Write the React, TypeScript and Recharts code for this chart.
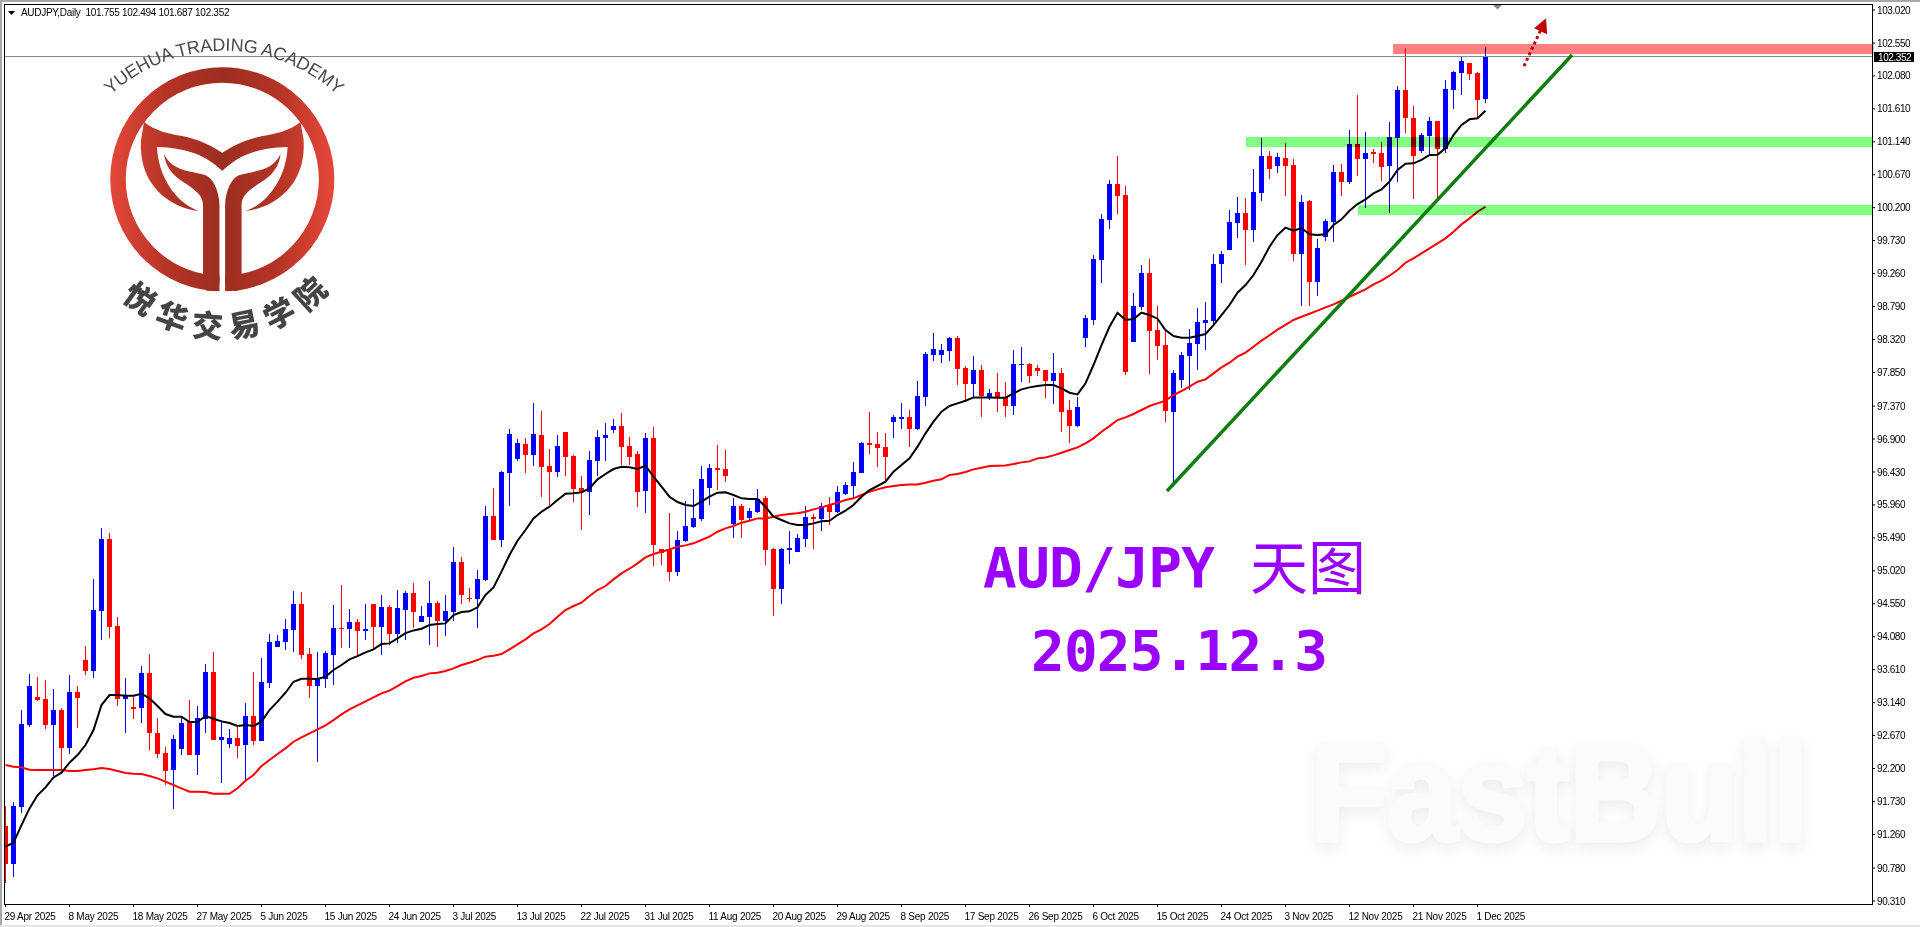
import {
  Bar,
  ComposedChart,
  Line,
  ReferenceArea,
  ReferenceDot,
  ReferenceLine,
  XAxis,
  YAxis,
} from "recharts";

const dateLabels = [
  "29 Apr 2025", "8 May 2025", "18 May 2025", "27 May 2025", "5 Jun 2025", "15 Jun 2025",
  "24 Jun 2025", "3 Jul 2025", "13 Jul 2025", "22 Jul 2025", "31 Jul 2025", "11 Aug 2025",
  "20 Aug 2025", "29 Aug 2025", "8 Sep 2025", "17 Sep 2025", "26 Sep 2025", "6 Oct 2025",
  "15 Oct 2025", "24 Oct 2025", "3 Nov 2025", "12 Nov 2025", "21 Nov 2025", "1 Dec 2025",
];
const dateTicks = dateLabels.map((_, i) => i * 8);

const priceTicks = [
  103.02, 102.55, 102.08, 101.61, 101.14, 100.67, 100.2, 99.73, 99.26, 98.79, 98.32, 97.85, 97.37, 96.9,
  96.43, 95.96, 95.49, 95.02, 94.55, 94.08, 93.61, 93.14, 92.67, 92.2, 91.73, 91.26, 90.78, 90.31,
];

const opens = [
  91.379, 90.837, 91.650, 92.820, 93.219, 93.191, 92.820, 93.034, 92.492, 93.291,
  93.747, 93.590, 94.446, 95.473, 94.232, 93.191, 93.077, 93.063, 93.562, 92.706,
  92.421, 92.178, 92.478, 92.863, 92.392, 92.906, 93.576, 92.606, 92.549, 92.635,
  92.535, 92.948, 92.592, 93.419, 93.933, 94.004, 94.175, 94.546, 93.833, 93.376,
  93.476, 93.819, 94.204, 94.190, 94.289, 94.161, 94.546, 94.218, 94.503, 94.118,
  94.461, 94.703, 94.289, 94.361, 94.560, 94.304, 94.432, 95.145, 94.632, 94.617,
  94.889, 95.802, 95.459, 96.415, 96.615, 96.829, 96.672, 96.957, 96.515, 96.429,
  97.000, 96.658, 96.201, 96.144, 96.586, 96.914, 97.029, 97.086, 96.800, 96.686,
  96.158, 96.914, 95.331, 95.317, 95.003, 95.445, 95.645, 95.759, 96.201, 96.486,
  96.472, 95.688, 95.944, 95.773, 95.859, 96.058, 95.331, 94.760, 95.317, 95.288,
  95.474, 95.787, 95.759, 95.959, 95.859, 96.116, 96.230, 96.415, 96.843, 96.829,
  96.786, 97.143, 97.185, 97.214, 97.043, 97.499, 98.098, 98.098, 98.155, 98.341,
  97.913, 97.685, 97.884, 97.499, 97.570, 97.499, 97.371, 97.956, 97.970, 97.913,
  97.884, 97.727, 97.842, 97.314, 97.085, 98.341, 98.598, 99.454, 100.024, 100.538,
  100.381, 98.284, 98.783, 99.268, 98.455, 98.241, 97.285, 97.742, 98.084, 98.255,
  98.555, 98.583, 99.396, 99.596, 99.981, 100.124, 99.882, 100.410, 100.938, 100.795,
  100.909, 100.809, 99.539, 100.296, 99.140, 99.782, 99.996, 100.709, 100.567, 101.109,
  100.895, 100.995, 100.980, 100.795, 101.194, 101.879, 101.480, 101.009, 101.223, 101.437,
  101.037, 101.879, 102.122, 102.264, 102.122, 101.755,
];

const highs = [
  91.665, 91.722, 93.034, 93.548, 93.505, 93.462, 93.334, 93.063, 93.533, 93.376,
  93.947, 94.903, 95.630, 95.559, 94.361, 93.491, 93.234, 93.662, 93.833, 92.920,
  92.506, 92.677, 92.920, 93.177, 93.091, 93.690, 93.861, 92.891, 92.763, 92.820,
  93.134, 93.576, 93.776, 94.118, 94.104, 94.332, 94.732, 94.717, 93.918, 93.861,
  93.876, 94.532, 94.817, 94.475, 94.332, 94.546, 94.546, 94.675, 94.532, 94.746,
  94.732, 94.846, 94.518, 94.874, 94.589, 94.675, 95.359, 95.217, 94.774, 95.031,
  95.944, 96.201, 96.450, 97.043, 96.900, 96.914, 97.414, 97.300, 96.757, 96.957,
  97.000, 96.672, 96.372, 96.729, 97.029, 97.128, 97.185, 97.271, 96.929, 96.729,
  96.986, 97.071, 95.331, 95.845, 95.588, 96.016, 96.187, 96.515, 96.543, 96.815,
  96.743, 96.058, 95.973, 95.916, 96.187, 96.087, 95.345, 95.345, 95.588, 95.545,
  95.944, 95.830, 95.987, 96.073, 96.230, 96.287, 96.572, 96.857, 97.285, 97.000,
  96.986, 97.242, 97.414, 97.314, 97.728, 98.141, 98.412, 98.255, 98.355, 98.369,
  97.941, 98.084, 97.956, 97.613, 97.842, 97.713, 98.170, 98.212, 97.984, 97.956,
  97.884, 98.127, 97.913, 97.456, 97.499, 98.669, 99.525, 100.110, 100.595, 100.937,
  100.509, 98.983, 99.382, 99.468, 98.797, 98.455, 97.884, 98.141, 98.469, 98.769,
  98.854, 99.539, 99.582, 100.167, 100.352, 100.338, 100.752, 101.194, 101.009, 100.980,
  101.123, 100.895, 100.381, 100.310, 99.754, 100.039, 100.809, 100.823, 101.309, 101.808,
  101.280, 101.037, 101.137, 101.423, 101.936, 102.478, 101.651, 101.266, 101.494, 101.437,
  102.022, 102.150, 102.350, 102.264, 102.136, 102.494,
];

const lows = [
  90.561, 90.656, 91.565, 92.791, 93.162, 92.763, 92.093, 92.178, 92.406, 92.777,
  93.533, 93.491, 94.033, 94.061, 93.091, 92.706, 92.906, 92.849, 92.463, 92.349,
  91.964, 91.622, 92.392, 92.392, 92.107, 92.706, 92.606, 91.993, 92.492, 92.349,
  92.035, 92.535, 92.592, 93.348, 93.933, 93.890, 93.861, 93.762, 93.205, 92.292,
  93.348, 93.391, 93.918, 93.918, 93.804, 94.033, 93.904, 93.819, 93.961, 93.990,
  94.033, 94.204, 94.289, 93.961, 93.933, 94.090, 94.304, 94.546, 94.575, 94.204,
  94.874, 95.459, 95.359, 95.944, 96.586, 96.415, 96.515, 96.073, 95.959, 96.358,
  96.372, 96.001, 95.602, 95.816, 96.372, 96.586, 96.986, 96.529, 96.529, 95.930,
  95.845, 95.088, 95.103, 94.874, 94.946, 95.431, 95.631, 95.730, 95.959, 96.173,
  96.287, 95.488, 95.488, 95.745, 95.845, 95.103, 94.375, 94.546, 95.117, 95.288,
  95.359, 95.331, 95.588, 95.673, 95.845, 96.101, 96.058, 96.415, 96.686, 96.501,
  96.272, 96.914, 97.043, 96.786, 97.029, 97.371, 98.013, 97.984, 98.013, 97.670,
  97.428, 97.504, 97.214, 97.456, 97.285, 97.214, 97.242, 97.713, 97.699, 97.799,
  97.485, 97.399, 97.000, 96.843, 97.071, 98.212, 98.526, 99.125, 99.896, 100.110,
  97.813, 98.284, 98.740, 97.827, 98.027, 97.143, 96.287, 97.628, 97.599, 97.884,
  98.170, 98.541, 99.125, 99.596, 99.767, 99.382, 99.711, 100.296, 100.610, 100.695,
  100.367, 99.439, 98.797, 98.797, 98.940, 99.725, 99.711, 100.367, 100.538, 100.652,
  100.196, 100.838, 100.581, 100.125, 100.567, 101.266, 100.324, 100.980, 100.938, 100.324,
  100.980, 101.608, 101.808, 102.022, 101.480, 101.687,
];

const closes = [
  90.837, 91.665, 92.834, 93.376, 93.177, 92.820, 93.034, 92.492, 93.291, 93.205,
  93.590, 94.461, 95.473, 94.218, 93.191, 93.248, 93.048, 93.562, 92.706, 92.406,
  92.164, 92.620, 92.849, 92.392, 92.920, 93.576, 92.606, 92.649, 92.635, 92.520,
  92.948, 92.592, 93.433, 94.004, 94.018, 94.190, 94.546, 93.819, 93.376, 93.476,
  93.847, 94.204, 94.190, 94.289, 94.161, 94.190, 94.218, 94.503, 94.118, 94.489,
  94.703, 94.432, 94.375, 94.560, 94.304, 94.446, 95.145, 94.675, 94.617, 94.903,
  95.802, 95.459, 96.429, 96.971, 96.843, 96.672, 96.971, 96.501, 96.429, 96.800,
  96.643, 96.187, 96.144, 96.601, 96.929, 96.957, 97.086, 96.786, 96.643, 96.144,
  96.914, 95.388, 95.274, 95.003, 95.459, 95.659, 95.773, 96.330, 96.486, 96.458,
  96.372, 95.944, 95.745, 95.873, 96.044, 95.317, 94.760, 95.331, 95.345, 95.488,
  95.787, 95.759, 95.944, 95.859, 96.144, 96.244, 96.429, 96.843, 96.815, 96.772,
  96.643, 97.214, 97.214, 97.043, 97.514, 98.113, 98.184, 98.170, 98.341, 97.899,
  97.685, 97.884, 97.513, 97.556, 97.499, 97.371, 97.970, 97.970, 97.799, 97.870,
  97.727, 97.842, 97.285, 97.085, 97.356, 98.626, 99.468, 100.038, 100.538, 100.366,
  97.856, 98.797, 99.268, 98.441, 98.227, 97.299, 97.842, 98.098, 98.270, 98.569,
  98.598, 99.396, 99.539, 99.996, 100.124, 99.881, 100.424, 100.938, 100.752, 100.923,
  100.795, 99.539, 100.281, 99.140, 99.625, 100.010, 100.709, 100.567, 101.109, 100.895,
  100.980, 100.966, 100.781, 101.209, 101.879, 101.480, 100.938, 101.237, 101.437, 101.037,
  101.893, 102.136, 102.293, 102.107, 101.736, 102.352,
];

const fastMa = [
  91.084, 91.141, 91.393, 91.631, 91.817, 91.931, 92.073, 92.140, 92.283, 92.392,
  92.535, 92.749, 93.105, 93.248, 93.248, 93.238, 93.238, 93.267, 93.200, 93.091,
  92.977, 92.939, 92.939, 92.863, 92.863, 92.948, 92.910, 92.872, 92.849, 92.806,
  92.820, 92.806, 92.868, 93.034, 93.153, 93.281, 93.438, 93.481, 93.481, 93.476,
  93.510, 93.605, 93.676, 93.757, 93.804, 93.857, 93.899, 93.976, 93.985, 94.056,
  94.132, 94.170, 94.194, 94.247, 94.261, 94.270, 94.389, 94.432, 94.442, 94.499,
  94.675, 94.784, 95.008, 95.245, 95.450, 95.602, 95.768, 95.863, 95.935, 96.030,
  96.120, 96.125, 96.139, 96.196, 96.325, 96.401, 96.472, 96.505, 96.496, 96.472,
  96.520, 96.363, 96.220, 96.077, 96.001, 95.959, 95.944, 96.006, 96.077, 96.134,
  96.139, 96.101, 96.054, 96.044, 96.044, 95.935, 95.792, 95.745, 95.697, 95.673,
  95.673, 95.697, 95.726, 95.735, 95.816, 95.878, 95.959, 96.077, 96.173, 96.230,
  96.291, 96.434, 96.529, 96.624, 96.791, 96.981, 97.147, 97.290, 97.371, 97.409,
  97.447, 97.494, 97.494, 97.494, 97.490, 97.490, 97.551, 97.609, 97.637, 97.656,
  97.670, 97.670, 97.623, 97.561, 97.537, 97.694, 97.956, 98.241, 98.502, 98.702,
  98.598, 98.612, 98.702, 98.669, 98.617, 98.455, 98.369, 98.346, 98.346, 98.369,
  98.398, 98.526, 98.669, 98.812, 98.987, 99.097, 99.240, 99.430, 99.644, 99.810,
  99.915, 99.872, 99.910, 99.820, 99.810, 99.820, 99.953, 100.034, 100.157, 100.252,
  100.319, 100.404, 100.462, 100.571, 100.738, 100.828, 100.833, 100.881, 100.952, 100.957,
  101.047, 101.237, 101.380, 101.461, 101.475, 101.584,
];

const slowMa = [
  92.249, 92.226, 92.216, 92.183, 92.178, 92.178, 92.178, 92.178, 92.164, 92.164,
  92.178, 92.188, 92.207, 92.192, 92.164, 92.135, 92.126, 92.121, 92.093, 92.059,
  92.012, 91.964, 91.917, 91.869, 91.869, 91.864, 91.840, 91.840, 91.840, 91.917,
  92.026, 92.107, 92.235, 92.321, 92.406, 92.487, 92.582, 92.644, 92.701, 92.758,
  92.815, 92.891, 92.972, 93.044, 93.101, 93.158, 93.215, 93.272, 93.310, 93.376,
  93.443, 93.495, 93.519, 93.557, 93.567, 93.590, 93.628, 93.676, 93.709, 93.747,
  93.795, 93.809, 93.833, 93.900, 93.970, 94.042, 94.128, 94.185, 94.261, 94.366,
  94.461, 94.518, 94.565, 94.660, 94.746, 94.803, 94.898, 94.984, 95.050, 95.126,
  95.212, 95.260, 95.293, 95.326, 95.364, 95.383, 95.412, 95.459, 95.507, 95.578,
  95.626, 95.659, 95.707, 95.735, 95.768, 95.768, 95.792, 95.816, 95.830, 95.840,
  95.863, 95.897, 95.925, 95.959, 95.992, 96.030, 96.054, 96.101, 96.149, 96.182,
  96.211, 96.230, 96.244, 96.253, 96.253, 96.277, 96.306, 96.325, 96.387, 96.401,
  96.429, 96.467, 96.491, 96.515, 96.520, 96.524, 96.543, 96.567, 96.581, 96.624,
  96.638, 96.667, 96.705, 96.743, 96.781, 96.838, 96.910, 97.005, 97.085, 97.171,
  97.209, 97.257, 97.314, 97.371, 97.409, 97.447, 97.528, 97.585, 97.647, 97.718,
  97.751, 97.837, 97.922, 97.989, 98.075, 98.132, 98.217, 98.303, 98.380, 98.460,
  98.530, 98.598, 98.645, 98.688, 98.731, 98.778, 98.821, 98.873, 98.930, 98.983,
  99.035, 99.106, 99.159, 99.230, 99.311, 99.415, 99.477, 99.549, 99.620, 99.691,
  99.763, 99.858, 99.962, 100.048, 100.143, 100.214,
];

const UP = "#0000ff";
const DOWN = "#ff0000";
const UI_FONT = "'Liberation Sans', Arial, sans-serif";

const candles = opens.map((open, i) => ({
  idx: i,
  open,
  high: highs[i],
  low: lows[i],
  close: closes[i],
  fast: fastMa[i],
  slow: slowMa[i],
}));

function Candle(props: any) {
  const { x, y, width, height, payload } = props;
  if (!payload) return null;
  const cx = x + width / 2;
  const top = Math.min(y, y + height);
  const pxPerUnit = Math.abs(height) / (payload.high - payload.low || 1);
  const bodyTop = top + (payload.high - Math.max(payload.open, payload.close)) * pxPerUnit;
  const bodyH = Math.max(1, Math.abs(payload.open - payload.close) * pxPerUnit);
  const color = payload.close >= payload.open ? UP : DOWN;
  return (
    <g shapeRendering="crispEdges">
      <rect x={cx - 0.5} y={top} width={1} height={Math.abs(height)} fill={color} />
      <rect x={cx - 2.5} y={bodyTop} width={5} height={bodyH} fill={color} />
    </g>
  );
}

function DateTick(props: any) {
  const { x, y, payload } = props;
  return (
    <g>
      <line x1={x} x2={x} y1={904} y2={907} stroke="#000" shapeRendering="crispEdges" />
      <text x={x - 1} y={y + 8} fontSize={10} letterSpacing={-0.25} fontFamily={UI_FONT} fill="#000">
        {dateLabels[payload.value / 8]}
      </text>
    </g>
  );
}

const WING_PATH =
  "M144 122 C155 131 170 134 182 136 C198 139 212 146 222.6 153 L222.6 171 C210 160 195 148 157 147 C158 175 175 203 199 211 C170 208 138 185 141 140 Z";
const STEM_PATH =
  "M164 154 C172 170 185 170 205 175 C213 178 219 190 219.5 205 L219.5 282 C219.5 287 214 291 207 291 L203 274 L203 205 C203 195 195 190 185 183 C172 176 165 165 164 154 Z";

function Logo() {
  return (
    <g>
      <defs>
        <linearGradient id="logoRed" gradientUnits="userSpaceOnUse" x1={110} x2={334} y1={0} y2={0}>
          <stop offset="0" stopColor="#e5483a" />
          <stop offset="0.25" stopColor="#b53426" />
          <stop offset="0.5" stopColor="#9c2e20" />
          <stop offset="0.75" stopColor="#b53426" />
          <stop offset="1" stopColor="#e5483a" />
        </linearGradient>
        <path id="logoTop" d="M90 118 A167 167 0 0 1 358 118" />
        <path id="logoBottom" d="M76 192 A146 146 0 0 0 368 192" />
      </defs>
      <circle cx={222.3} cy={179.3} r={104.3} fill="none" stroke="url(#logoRed)" strokeWidth={15.5} />
      <rect x={219.5} y={205} width={5.6} height={92} fill="#fff" />
      <g fill="url(#logoRed)">
        <path d={WING_PATH} />
        <path d={STEM_PATH} />
      </g>
      <g fill="url(#logoRed)" transform="translate(444.6 0) scale(-1 1)">
        <path d={WING_PATH} />
        <path d={STEM_PATH} />
      </g>
      <text fontSize={18} letterSpacing={-0.2} fontFamily={UI_FONT} fill="#4a4a4a">
        <textPath href="#logoTop" startOffset="50%" textAnchor="middle">
          YUEHUA TRADING ACADEMY
        </textPath>
      </text>
      <text fontSize={31} fontWeight={900} fontFamily="'Noto Sans CJK SC'" fill="#444" letterSpacing={9}>
        <textPath href="#logoBottom" startOffset="52%" textAnchor="middle">
          悦华交易学院
        </textPath>
      </text>
    </g>
  );
}

export default function App() {
  return (
    <div style={{ position: "absolute", left: 0, top: 0, width: 1920, height: 927, background: "#fff", overflow: "hidden" }}>
      <svg width={1920} height={927} style={{ position: "absolute", left: 0, top: 0 }}>
        <text
          x={1310}
          y={840}
          fontSize={140}
          fontWeight={700}
          fontFamily={UI_FONT}
          textLength={498}
          lengthAdjust="spacingAndGlyphs"
          fill="#fbfbfb"
          stroke="#fbfbfb"
          strokeWidth={5}
          style={{ filter: "drop-shadow(0 6px 7px #eeeeee)" }}
        >
          FastBull
        </text>
      </svg>
      <div style={{ position: "absolute", left: 0, top: 0 }}>
        <ComposedChart
          width={1920}
          height={927}
          data={candles}
          margin={{ top: 4, right: 0, bottom: 0, left: 4 }}
          barSize={5}
        >
          <XAxis
            dataKey="idx"
            type="number"
            domain={[-0.1875, 233.3125]}
            allowDataOverflow
            ticks={dateTicks}
            interval={0}
            height={23}
            axisLine={false}
            tickLine={false}
            tick={<DateTick />}
          />
          <YAxis
            orientation="right"
            domain={[90.267, 103.106]}
            allowDataOverflow
            ticks={priceTicks}
            interval={0}
            width={48}
            axisLine={false}
            tickSize={3}
            tickLine={{ stroke: "#000" }}
            tickMargin={2}
            tickFormatter={(v: number) => v.toFixed(3)}
            tick={{ fontSize: 10, fontFamily: UI_FONT, fill: "#000", letterSpacing: -0.42 }}
          />
          <ReferenceLine y={102.352} stroke="#7f8a9c" strokeWidth={1} shapeRendering="crispEdges" />
          <Bar dataKey={(d: any) => [d.low, d.high]} shape={<Candle />} isAnimationActive={false} />
          <Line dataKey="slow" stroke="#ff0000" strokeWidth={2} dot={false} type="linear" isAnimationActive={false} />
          <Line dataKey="fast" stroke="#000000" strokeWidth={2} dot={false} type="linear" isAnimationActive={false} />
          <ReferenceArea
            x1={173.44}
            x2={233.5}
            y1={102.392}
            y2={102.535}
            ifOverflow="visible"
            fill="#ff8080"
            fillOpacity={1}
            stroke="none"
            style={{ mixBlendMode: "multiply" }}
            zIndex={900}
            isFront
          />
          <ReferenceArea
            x1={155.06}
            x2={233.3125}
            y1={101.066}
            y2={101.208}
            fill="#80ff80"
            fillOpacity={1}
            stroke="none"
            style={{ mixBlendMode: "multiply" }}
            zIndex={900}
            isFront
          />
          <ReferenceArea
            x1={169.06}
            x2={233.3125}
            y1={100.096}
            y2={100.238}
            fill="#80ff80"
            fillOpacity={1}
            stroke="none"
            style={{ mixBlendMode: "multiply" }}
            zIndex={900}
            isFront
          />
          <ReferenceLine
            segment={[
              { x: 145.19, y: 96.158 },
              { x: 195.81, y: 102.378 },
            ]}
            stroke="#0d7d0d"
            strokeWidth={3.5}
            zIndex={950}
            isFront
          />
          <ReferenceLine
            segment={[
              { x: 189.81, y: 102.221 },
              { x: 191.9, y: 102.735 },
            ]}
            stroke="#c00000"
            strokeWidth={3}
            strokeDasharray="3 3"
            zIndex={950}
            isFront
          />
          <ReferenceDot
            x={192.2}
            y={102.79}
            r={1}
            zIndex={950}
            isFront
            shape={(p: any) => (
              <polygon
                points={`${p.cx + 3},${p.cy - 8} ${p.cx - 9},${p.cy + 2} ${p.cx + 4},${p.cy + 8}`}
                fill="#c00000"
              />
            )}
          />
          <ReferenceDot
            x={186.5}
            y={103.1}
            r={1}
            ifOverflow="visible"
            zIndex={950}
            isFront
            shape={(p: any) => (
              <polygon points={`${p.cx - 5},${p.cy} ${p.cx + 5},${p.cy} ${p.cx},${p.cy + 5}`} fill="#7f8a9c" />
            )}
          />
          <ReferenceDot
            x={233.3125}
            y={102.352}
            r={1}
            ifOverflow="visible"
            zIndex={950}
            isFront
            shape={(p: any) => (
              <g>
                <rect x={p.cx + 2} y={p.cy - 5} width={40} height={10} fill="#000" shapeRendering="crispEdges" />
                <text x={p.cx + 6} y={p.cy + 4} fontSize={10} letterSpacing={-0.42} fontFamily={UI_FONT} fill="#fff">
                  102.352
                </text>
              </g>
            )}
          />
        </ComposedChart>
      </div>
      <svg width={1920} height={927} style={{ position: "absolute", left: 0, top: 0, pointerEvents: "none" }}>
        <rect x={0} y={0} width={1920} height={2} fill="#a8a8a8" />
        <rect x={0} y={0} width={2} height={927} fill="#a8a8a8" />
        <rect x={0} y={925} width={1920} height={2} fill="#e6e6e6" />
        <rect x={4.5} y={4.5} width={1868} height={900} fill="none" stroke="#000" shapeRendering="crispEdges" />
        <polygon points="8,11 15,11 11.5,15" fill="#000" />
        <text x={21} y={16} fontSize={10} letterSpacing={-0.3} fontFamily={UI_FONT} fill="#000" xmlSpace="preserve">
          AUDJPY,Daily  101.755 102.494 101.687 102.352
        </text>
        <Logo />
        <text x={983} y={587} fontSize={56} fontWeight={700} fontFamily="'DejaVu Sans Mono'" fill="#9900ff" textLength={232}>
          AUD/JPY
        </text>
        <text x={1250} y={589} fontSize={58} fontFamily="'Noto Sans CJK SC'" fill="#9900ff">
          天图
        </text>
        <text x={1031} y={670} fontSize={56} fontWeight={700} fontFamily="'DejaVu Sans Mono'" fill="#9900ff" textLength={297}>
          2025.12.3
        </text>
      </svg>
    </div>
  );
}
